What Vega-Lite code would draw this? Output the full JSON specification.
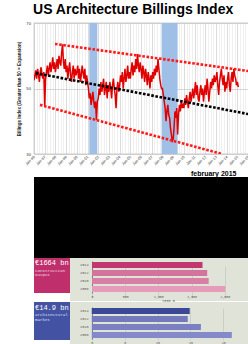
{
"$schema": "https://vega.github.io/schema/vega-lite/v6.json",
"background": "white",
"padding": {"left": 16, "top": 2, "right": 0, "bottom": 0},
"spacing": 0,
"config": {"font": "Liberation Sans", "axis": {"labelOverlap": false}},
"resolve": {"scale": {"color": "independent"}},
"vconcat": [
{
"width": 215, "height": 131,
"title": {"text": "US  Architecture Billings Index", "fontSize": 14, "font": "Liberation Sans", "fontWeight": "bold", "anchor": "middle", "frame": "bounds", "offset": 4, "color": "#000"},
"view": {"stroke": "#999", "strokeWidth": 0.5},
"resolve": {"axis": {"x": "independent"}},
"layer": [
{
"data": {"values": [{"start": 62, "end": 71}, {"start": 143, "end": 161}]},
"mark": {"type": "rect", "color": "#a0bfe7"},
"encoding": {
"x": {"field": "start", "type": "quantitative", "scale": {"domain": [0, 241], "nice": false, "zero": false},
"axis": {"orient": "bottom", "values": [3,6,9,15,18,21,27,30,33,39,42,45,51,54,57,63,66,69,75,78,81,87,90,93,99,102,105,111,114,117,123,126,129,135,138,141,147,150,153,159,162,165,171,174,177,183,186,189,195,198,201,207,210,213,219,222,225,231,234,237],
"labels": false, "ticks": false, "domain": false, "grid": true, "gridColor": "#e0e0e0", "gridWidth": 0.5, "title": null}},
"x2": {"field": "end"}
}
},
{
"data": {"values": [
{"m":0,"v":52.5},{"m":1,"v":54},{"m":2,"v":55.5},{"m":3,"v":53},{"m":4,"v":56},{"m":5,"v":54.5},{"m":6,"v":52},{"m":7,"v":55},{"m":8,"v":56.5},{"m":9,"v":54},{"m":10,"v":53},{"m":11,"v":55},
{"m":12,"v":44.5},{"m":13,"v":53},{"m":14,"v":55},{"m":15,"v":57},{"m":16,"v":54},{"m":17,"v":56},{"m":18,"v":58},{"m":19,"v":55},{"m":20,"v":57},{"m":21,"v":59.5},{"m":22,"v":56},{"m":23,"v":58},
{"m":24,"v":55},{"m":25,"v":57},{"m":26,"v":59},{"m":27,"v":56},{"m":28,"v":60},{"m":29,"v":58},{"m":30,"v":57},{"m":31,"v":61},{"m":32,"v":63.5},{"m":33,"v":58},{"m":34,"v":56},{"m":35,"v":59},
{"m":36,"v":55},{"m":37,"v":57},{"m":38,"v":53},{"m":39,"v":56},{"m":40,"v":58},{"m":41,"v":54},{"m":42,"v":52},{"m":43,"v":55},{"m":44,"v":57},{"m":45,"v":53},{"m":46,"v":56},{"m":47,"v":54},
{"m":48,"v":55},{"m":49,"v":57},{"m":50,"v":53},{"m":51,"v":56},{"m":52,"v":52},{"m":53,"v":54},{"m":54,"v":57},{"m":55,"v":55},{"m":56,"v":53},{"m":57,"v":56},{"m":58,"v":51},{"m":59,"v":54},
{"m":60,"v":52},{"m":61,"v":50},{"m":62,"v":47},{"m":63,"v":48.5},{"m":64,"v":45},{"m":65,"v":47},{"m":66,"v":49},{"m":67,"v":46},{"m":68,"v":44},{"m":69,"v":46},{"m":70,"v":40.5},{"m":71,"v":46},
{"m":72,"v":47},{"m":73,"v":50},{"m":74,"v":48},{"m":75,"v":52},{"m":76,"v":49},{"m":77,"v":51},{"m":78,"v":53},{"m":79,"v":48},{"m":80,"v":50},{"m":81,"v":52},{"m":82,"v":47},{"m":83,"v":51},
{"m":84,"v":49},{"m":85,"v":52},{"m":86,"v":50},{"m":87,"v":47},{"m":88,"v":51},{"m":89,"v":53},{"m":90,"v":50},{"m":91,"v":48},{"m":92,"v":44},{"m":93,"v":50},{"m":94,"v":52},{"m":95,"v":49},
{"m":96,"v":51},{"m":97,"v":54},{"m":98,"v":52},{"m":99,"v":55},{"m":100,"v":50},{"m":101,"v":53},{"m":102,"v":56},{"m":103,"v":52},{"m":104,"v":54},{"m":105,"v":57},{"m":106,"v":53},{"m":107,"v":55},
{"m":108,"v":53},{"m":109,"v":56},{"m":110,"v":58},{"m":111,"v":54},{"m":112,"v":57},{"m":113,"v":55},{"m":114,"v":59},{"m":115,"v":56},{"m":116,"v":60.5},{"m":117,"v":57},{"m":118,"v":55},{"m":119,"v":58},
{"m":120,"v":56},{"m":121,"v":53},{"m":122,"v":57},{"m":123,"v":55},{"m":124,"v":52},{"m":125,"v":56},{"m":126,"v":54},{"m":127,"v":51},{"m":128,"v":55},{"m":129,"v":53},{"m":130,"v":50},{"m":131,"v":54},
{"m":132,"v":52},{"m":133,"v":55},{"m":134,"v":53},{"m":135,"v":56},{"m":136,"v":54},{"m":137,"v":57},{"m":138,"v":55},{"m":139,"v":59},{"m":140,"v":56},{"m":141,"v":53},{"m":142,"v":51},{"m":143,"v":50},
{"m":144,"v":50},{"m":145,"v":48},{"m":146,"v":46},{"m":147,"v":44},{"m":148,"v":40},{"m":149,"v":43},{"m":150,"v":45},{"m":151,"v":42},{"m":152,"v":41},{"m":153,"v":38},{"m":154,"v":36},{"m":155,"v":34},
{"m":156,"v":34.5},{"m":157,"v":38},{"m":158,"v":43},{"m":159,"v":41},{"m":160,"v":44},{"m":161,"v":36},{"m":162,"v":42},{"m":163,"v":45},{"m":164,"v":43},{"m":165,"v":46},{"m":166,"v":44},{"m":167,"v":45},
{"m":168,"v":44},{"m":169,"v":47},{"m":170,"v":45},{"m":171,"v":48},{"m":172,"v":46},{"m":173,"v":44},{"m":174,"v":47},{"m":175,"v":49},{"m":176,"v":46},{"m":177,"v":48},{"m":178,"v":50},{"m":179,"v":47},
{"m":180,"v":49},{"m":181,"v":52},{"m":182,"v":48},{"m":183,"v":51},{"m":184,"v":47},{"m":185,"v":46},{"m":186,"v":49},{"m":187,"v":51},{"m":188,"v":48},{"m":189,"v":50},{"m":190,"v":46},{"m":191,"v":49},
{"m":192,"v":51},{"m":193,"v":48},{"m":194,"v":53},{"m":195,"v":50},{"m":196,"v":46},{"m":197,"v":49},{"m":198,"v":52},{"m":199,"v":50},{"m":200,"v":53},{"m":201,"v":51},{"m":202,"v":54},{"m":203,"v":52},
{"m":204,"v":53},{"m":205,"v":55},{"m":206,"v":51},{"m":207,"v":48},{"m":208,"v":52},{"m":209,"v":54},{"m":210,"v":56},{"m":211,"v":53},{"m":212,"v":51},{"m":213,"v":54},{"m":214,"v":49},{"m":215,"v":52},
{"m":216,"v":50},{"m":217,"v":53},{"m":218,"v":55},{"m":219,"v":51},{"m":220,"v":49},{"m":221,"v":53},{"m":222,"v":55},{"m":223,"v":52},{"m":224,"v":56},{"m":225,"v":54},{"m":226,"v":53},{"m":227,"v":51},
{"m":228,"v":52},{"m":229,"v":50.4}
]},
"mark": {"type": "line", "color": "#e00000", "strokeWidth": 1.5, "clip": true},
"encoding": {
"x": {"field": "m", "type": "quantitative",
"axis": {"orient": "bottom", "values": [0,12,24,36,48,60,72,84,96,108,120,132,144,156,168,180,192,204,216,228,240],
"labelExpr": "'Jan-' + slice('0' + ((96 + datum.value / 12) % 100), -2)",
"labelAngle": -45, "labelAlign": "right", "labelBaseline": "middle", "labelFontSize": 3.8, "labelColor": "#333", "labelPadding": 2, "labelOverlap": false,
"ticks": false, "domain": false, "grid": true, "gridColor": "#b8b8b8", "gridWidth": 0.5,
"title": "february 2015", "titleFontSize": 7, "titleFontWeight": "bold", "titleColor": "#000", "titleAlign": "right", "titleX": 202, "titleY": 21, "titleBaseline": "alphabetic"}},
"y": {"field": "v", "type": "quantitative", "scale": {"domain": [30, 70], "nice": false, "zero": false},
"axis": {"values": [30,35,40,45,50,55,60,65,70], "labelFontSize": 4.2, "labelColor": "#333", "labelPadding": 3.5, "labelOverlap": false, "ticks": false, "domain": false, "gridColor": "#bdbdbd", "gridWidth": 0.6,
"title": "Billings Index (Greater than 50 = Expansion)", "titleFontSize": 4.5, "titleFontWeight": "bold", "titleColor": "#222", "titlePadding": 4}}
}
},
{
"data": {"values": [
{"line": "upper", "m": 23.5, "v": 63.6}, {"line": "upper", "m": 241, "v": 55.3},
{"line": "lower", "m": 6.7, "v": 45}, {"line": "lower", "m": 210.8, "v": 30},
{"line": "trend", "m": 2, "v": 54.7}, {"line": "trend", "m": 240, "v": 42.2}
]},
"mark": {"type": "line", "strokeWidth": 2.6, "strokeDash": [2.6, 1.6], "strokeCap": "butt", "clip": true},
"encoding": {
"x": {"field": "m", "type": "quantitative", "axis": null},
"y": {"field": "v", "type": "quantitative"},
"detail": {"field": "line"},
"color": {"field": "line", "type": "nominal", "scale": {"domain": ["upper", "lower", "trend"], "range": ["#ff1a1a", "#ff1a1a", "#000000"]}, "legend": null}
}
}
]
},
{
"width": 232, "height": 81,
"view": {"fill": "#000000", "stroke": null},
"data": {"values": [{}]},
"mark": {"type": "point", "opacity": 0}
},
{
"spacing": 0,
"hconcat": [
{
"width": 36, "height": 35,
"view": {"fill": "#bf2f6b", "stroke": null},
"layer": [
{
"data": {"values": [{"line": "€1664 bn", "k": 1}]},
"mark": {"type": "text", "font": "Liberation Mono", "fontSize": 7, "color": "#ffffff", "align": "left", "baseline": "alphabetic", "dx": 1, "dy": -2},
"encoding": {
"x": {"datum": 0, "type": "quantitative", "scale": {"domain": [0, 36]}, "axis": null},
"y": {"field": "k", "type": "quantitative", "scale": {"domain": [-1.11, 6.67], "reverse": true, "nice": false, "zero": false}, "axis": null},
"text": {"field": "line"}
}
},
{
"data": {"values": [{"line": "construction", "k": 2}, {"line": "output", "k": 3}]},
"mark": {"type": "text", "font": "Liberation Mono", "fontSize": 4.2, "color": "#f5dbe6", "align": "left", "baseline": "alphabetic", "dx": 1},
"encoding": {
"x": {"datum": 0, "type": "quantitative"},
"y": {"field": "k", "type": "quantitative"},
"text": {"field": "line"}
}
}
]
},
{
"width": 196, "height": 43,
"view": {"fill": "#e0e3d8", "stroke": null},
"data": {"values": [{"year": "2014", "val": 1664}, {"year": "2012", "val": 1735}, {"year": "2010", "val": 1757}, {"year": "2008", "val": 2008}]},
"mark": {"type": "bar"},
"encoding": {
"y": {"field": "year", "type": "nominal", "sort": ["2014", "2012", "2010", "2008"], "scale": {"range": [3, 35], "paddingInner": 0.25, "paddingOuter": 0.125},
"axis": {"offset": -22, "ticks": false, "labelFontSize": 3.5, "labelPadding": 4, "title": null, "domainColor": "#444", "domainWidth": 0.6, "labelColor": "#555", "labelFont": "Liberation Mono"}},
"x": {"field": "val", "type": "quantitative", "scale": {"domain": [-331, 2620], "nice": false, "zero": false},
"axis": {"offset": -8, "values": [0, 500, 1000, 1500, 2000, 2500], "domain": false, "ticks": false, "labelFontSize": 3.2, "labelPadding": 1, "labelColor": "#555", "labelFont": "Liberation Mono", "title": "€000 m", "titleFontSize": 3.5, "titleFont": "Liberation Mono", "titlePadding": 1, "titleColor": "#555", "titleFontWeight": "normal", "gridColor": "#b8b8b8", "gridWidth": 0.5}},
"x2": {"datum": 0},
"color": {"field": "year", "type": "nominal", "scale": {"domain": ["2014", "2012", "2010", "2008"], "range": ["#c2376f", "#d3749c", "#d77fa4", "#e59bba"]}, "legend": null}
}
}
]
},
{
"spacing": 0,
"hconcat": [
{
"width": 36, "height": 38,
"view": {"fill": "#4452a3", "stroke": null},
"layer": [
{
"data": {"values": [{"line": "€14.9 bn", "k": 1}]},
"mark": {"type": "text", "font": "Liberation Mono", "fontSize": 7, "color": "#ffffff", "align": "left", "baseline": "alphabetic", "dx": 1, "dy": -2},
"encoding": {
"x": {"datum": 0, "type": "quantitative", "scale": {"domain": [0, 36]}, "axis": null},
"y": {"field": "k", "type": "quantitative", "scale": {"domain": [-1.11, 7.33], "reverse": true, "nice": false, "zero": false}, "axis": null},
"text": {"field": "line"}
}
},
{
"data": {"values": [{"line": "architectural", "k": 2}, {"line": "market", "k": 3}]},
"mark": {"type": "text", "font": "Liberation Mono", "fontSize": 4.2, "color": "#dfe2f5", "align": "left", "baseline": "alphabetic", "dx": 1},
"encoding": {
"x": {"datum": 0, "type": "quantitative"},
"y": {"field": "k", "type": "quantitative"},
"text": {"field": "line"}
}
}
]
},
{
"width": 196, "height": 43,
"view": {"fill": "#e0e3d8", "stroke": null},
"data": {"values": [{"year": "2014", "val": 14.9}, {"year": "2012", "val": 14.6}, {"year": "2010", "val": 16.6}, {"year": "2008", "val": 21.3}]},
"mark": {"type": "bar"},
"encoding": {
"y": {"field": "year", "type": "nominal", "sort": ["2014", "2012", "2010", "2008"], "scale": {"range": [5, 37], "paddingInner": 0.25, "paddingOuter": 0.125},
"axis": {"offset": -22, "ticks": false, "labelFontSize": 3.5, "labelPadding": 4, "title": null, "domainColor": "#444", "domainWidth": 0.6, "labelColor": "#555", "labelFont": "Liberation Mono"}},
"x": {"field": "val", "type": "quantitative", "scale": {"domain": [-3.31, 26.5], "nice": false, "zero": false},
"axis": {"offset": -6, "values": [0, 5, 10, 15, 20, 25], "domain": false, "ticks": false, "labelFontSize": 3.2, "labelPadding": 1, "labelColor": "#555", "labelFont": "Liberation Mono", "title": "€000 m", "titleFontSize": 3.5, "titleFont": "Liberation Mono", "titlePadding": 1, "titleColor": "#555", "titleFontWeight": "normal", "gridColor": "#b8b8b8", "gridWidth": 0.5}},
"x2": {"datum": 0},
"color": {"field": "year", "type": "nominal", "scale": {"domain": ["2014", "2012", "2010", "2008"], "range": ["#3b4898", "#7479bd", "#7b80c2", "#8489c9"]}, "legend": null}
}
}
]
}
]
}
